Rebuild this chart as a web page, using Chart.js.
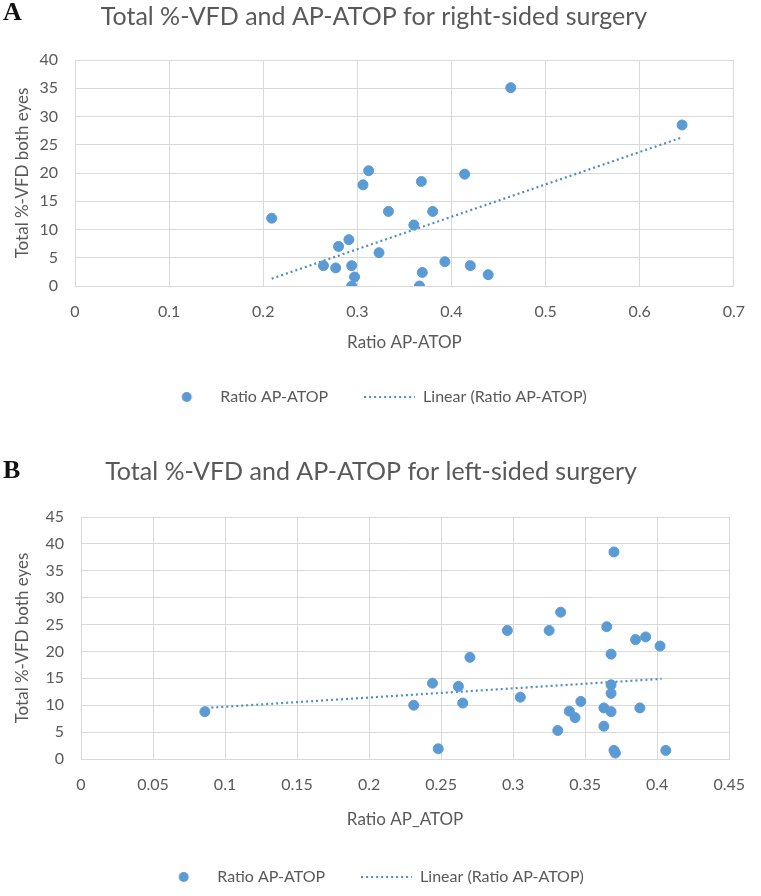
<!DOCTYPE html>
<html>
<head>
<meta charset="utf-8">
<script src="https://cdn.jsdelivr.net/npm/chart.js@4"></script>
<style>
body { margin:0; background:#fff; width:761px; height:896px; position:relative; overflow:hidden; }
.panel { position:absolute; left:0; width:761px; }
.letter { position:absolute; left:3px; font-family:"Liberation Serif"; font-weight:bold; font-size:26px; line-height:26px; color:#111; }
</style>
</head>
<body>
<div class="panel" style="top:0;height:457px"><canvas id="chartA"></canvas></div>
<div class="panel" style="top:457px;height:439px"><canvas id="chartB"></canvas></div>
<div class="letter" style="top:-1px">A</div>
<div class="letter" style="top:457px">B</div>
<script>
// panel A - right-sided surgery
var rightX = [0.463,0.645,0.312,0.414,0.368,0.306,0.333,0.380,0.209,0.360,0.291,0.280,0.323,0.393,0.264,0.277,0.294,0.420,0.369,0.439,0.297,0.294,0.366];
var rightY = [35.1,28.5,20.4,19.8,18.5,17.9,13.2,13.2,12.0,10.8,8.2,7.0,5.9,4.3,3.6,3.2,3.6,3.6,2.4,2.0,1.6,0.0,0.0];
var rightTrendX = [0.209, 0.645];
var rightTrendY = [1.3, 26.3];

// panel B - left-sided surgery
var leftX = [0.086,0.231,0.244,0.248,0.262,0.265,0.270,0.296,0.305,0.325,0.333,0.331,0.339,0.343,0.347,0.363,0.363,0.365,0.368,0.368,0.368,0.368,0.370,0.370,0.371,0.385,0.392,0.388,0.402,0.406];
var leftY = [8.8,10.0,14.1,1.9,13.5,10.4,18.9,23.9,11.5,23.9,27.3,5.3,8.9,7.7,10.7,9.5,6.1,24.6,19.5,13.8,12.2,8.8,38.5,1.6,1.1,22.2,22.7,9.5,21.0,1.6];
var leftTrendX = [0.087, 0.403];
var leftTrendY = [9.5, 14.9];

var blue = '#5b9bd5';
var trendBlue = '#4f8dc6';
var txt = '#595959';
var grid = '#d9d9d9';
var fam = 'Lato';

function pairs(xs, ys) {
	var out = [];
	for (var i = 0; i < xs.length; i++) out.push({x: xs[i], y: ys[i]});
	return out;
}

// little legend symbols, same width for both entries like excel does
function dotSymbol() {
	var c = document.createElement('canvas');
	c.width = 51; c.height = 12;
	var g = c.getContext('2d');
	g.fillStyle = blue;
	g.beginPath(); g.arc(25.5, 6, 5, 0, Math.PI * 2); g.fill();
	return c;
}
function lineSymbol() {
	var c = document.createElement('canvas');
	c.width = 51; c.height = 12;
	var g = c.getContext('2d');
	g.strokeStyle = trendBlue;
	g.lineWidth = 2;
	g.setLineDash([2, 3]);
	g.beginPath(); g.moveTo(0, 6); g.lineTo(51, 6); g.stroke();
	return c;
}
var symbols = [dotSymbol(), lineSymbol()];

function makeChart(id, o) {
	return new Chart(document.getElementById(id), {
		type: 'scatter',
		data: {
			datasets: [
				{
					label: 'Ratio AP-ATOP',
					data: pairs(o.xs, o.ys),
					backgroundColor: blue,
					borderColor: blue,
					borderWidth: 1,
					pointRadius: 5,
					order: 0
				},
				{
					label: 'Linear (Ratio AP-ATOP)',
					data: pairs(o.tx, o.ty),
					showLine: true,
					borderColor: trendBlue,
					borderWidth: 2.2,
					borderDash: [2, 3],
					pointRadius: 0,
					order: 1
				}
			]
		},
		options: {
			responsive: true,
			maintainAspectRatio: false,
			animation: false,
			layout: { padding: { left: 0, right: o.padRight, top: 0, bottom: o.padBottom } },
			plugins: {
				tooltip: { enabled: false },
				title: {
					display: true,
					text: o.title,
					color: txt,
					font: { family: fam, size: 25, weight: 'normal' },
					padding: { top: o.titleTop, bottom: 30 - o.titleTop }
				},
				legend: {
					position: 'bottom',
					labels: {
						usePointStyle: true,
						pointStyleWidth: 51,
						boxHeight: 12,
						padding: 36,
						color: txt,
						font: { family: fam, size: 16 },
						generateLabels: function(chart) {
							var items = Chart.defaults.plugins.legend.labels.generateLabels(chart);
							items.forEach(function(it, i) { it.pointStyle = symbols[i]; });
							return items;
						}
					}
				}
			},
			scales: {
				x: {
					type: 'linear',
					min: 0, max: o.xMax,
					grid: { color: grid, drawTicks: false },
					border: { color: grid },
					ticks: {
						stepSize: o.xStep, padding: 16, color: txt,
						font: { family: fam, size: 16 },
						callback: function(v) { return String(+v.toFixed(2)); }
					},
					title: { display: true, text: o.xTitle, color: txt, font: { family: fam, size: 17 }, padding: { top: 0, bottom: o.xTitlePad } },
					afterFit: function(s) { s.height = o.xHeight; }
				},
				y: {
					min: 0, max: o.yMax,
					grid: { color: grid, drawTicks: false },
					border: { color: grid },
					ticks: { stepSize: 5, padding: 17, color: txt, font: { family: fam, size: 16 } },
					title: { display: true, text: 'Total %-VFD both eyes', color: txt, font: { family: fam, size: 17 }, padding: { top: 12, bottom: 0 } },
					afterFit: function(s) { s.width = o.yWidth; }
				}
			}
		}
	});
}

makeChart('chartA', {
	xs: rightX, ys: rightY, tx: rightTrendX, ty: rightTrendY,
	title: 'Total %-VFD and AP-ATOP for right-sided surgery',
	xTitle: 'Ratio AP-ATOP',
	xMax: 0.7, xStep: 0.1, yMax: 40,
	yWidth: 75, padRight: 13, padBottom: 42, titleTop: 2,
	xHeight: 67, xTitlePad: 0
});

makeChart('chartB', {
	xs: leftX, ys: leftY, tx: leftTrendX, ty: leftTrendY,
	title: 'Total %-VFD and AP-ATOP for left-sided surgery',
	xTitle: 'Ratio AP_ATOP',
	xMax: 0.45, xStep: 0.05, yMax: 45,
	yWidth: 81, padRight: 19, padBottom: 1, titleTop: 0,
	xHeight: 74, xTitlePad: 3
});
</script>
</body>
</html>
